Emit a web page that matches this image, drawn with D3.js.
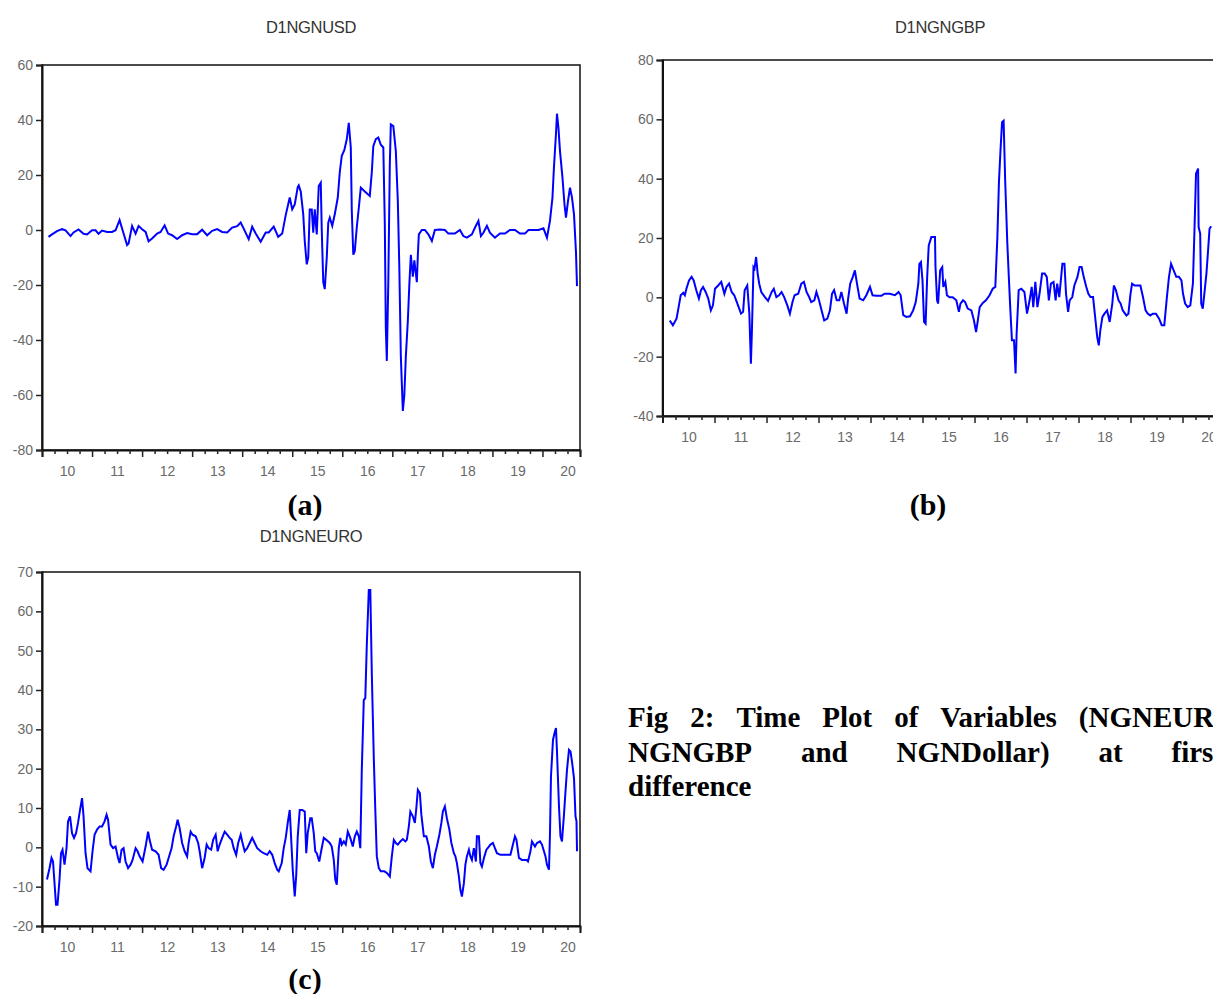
<!DOCTYPE html>
<html><head><meta charset="utf-8">
<script src="https://cdn.jsdelivr.net/npm/d3@7/dist/d3.min.js"></script>
<style>
html,body{margin:0;padding:0;background:#fff;overflow:hidden;}
svg{display:block;}
</style></head><body>
<svg id="chart" width="1213" height="994"></svg>
<script>
// ---------------- data (decimal year, first-difference value) ----------------
const yearLabels = ["10","11","12","13","14","15","16","17","18","19","20"];
const panelTitles = ["D1NGNUSD","D1NGNGBP","D1NGNEURO"];
const panelLetters = ["(a)","(b)","(c)"];
const captionLines = [
  ["Fig","2:","Time","Plot","of","Variables","(NGNEURO,"],
  ["NGNGBP","and","NGNDollar)","at","first"],
  ["difference"]
];
const usdTicks = [-80,-60,-40,-20,0,20,40,60];
const gbpTicks = [-40,-20,0,20,40,60,80];
const eurTicks = [-20,-10,0,10,20,30,40,50,60,70];

const usd = [
[2010.13,-2.5],[2010.20,-1.6],[2010.30,-0.4],[2010.40,0.3],[2010.47,-0.1],[2010.57,-2.2],[2010.63,-0.9],[2010.73,0.2],[2010.83,-1.4],[2010.90,-1.6],
[2011.00,-0.1],[2011.07,-0.1],[2011.13,-1.4],[2011.20,-0.2],[2011.30,-0.7],[2011.40,-0.7],[2011.47,-0.1],[2011.55,3.6],[2011.63,-1.3],[2011.70,-5.5],
[2011.73,-4.9],[2011.80,1.5],[2011.87,-1.3],[2011.93,1.5],[2012.00,0.3],[2012.07,-0.7],[2012.13,-4.1],[2012.20,-3.1],[2012.30,-1.3],[2012.37,-0.7],
[2012.45,1.7],[2012.52,-1.3],[2012.60,-1.9],[2012.70,-3.3],[2012.80,-1.9],[2012.90,-1.1],[2013.00,-1.5],[2013.10,-1.5],[2013.20,0.1],[2013.30,-1.9],
[2013.40,-0.3],[2013.50,0.3],[2013.60,-0.7],[2013.70,-0.9],[2013.80,0.9],[2013.90,1.4],[2013.97,2.7],[2014.03,0.5],[2014.13,-3.3],[2014.20,1.2],
[2014.27,-1.3],[2014.37,-4.3],[2014.47,-0.9],[2014.53,-0.9],[2014.63,1.2],[2014.72,-2.5],[2014.80,-1.3],[2014.87,5.4],
[2014.95,11.8],[2015.00,7.5],[2015.05,9.3],[2015.11,15.6],[2015.13,16.2],[2015.17,14],[2015.22,5.7],[2015.25,-4],[2015.29,-12.5],[2015.32,-10],
[2015.35,7.5],[2015.39,7.5],[2015.42,-1],[2015.45,7.5],[2015.49,-1.6],[2015.53,16],[2015.57,17.2],[2015.59,0],[2015.62,-19],[2015.65,-21.5],
[2015.69,-10],[2015.72,2.7],[2015.75,4.5],[2015.80,1.5],[2015.85,5.7],[2015.91,11.8],[2015.95,21],[2015.99,27],
[2016.04,29],[2016.09,33],[2016.13,39],[2016.17,30],[2016.19,7],[2016.22,-9],[2016.25,-7.6],[2016.29,1],[2016.33,8],[2016.37,15.4],
[2016.45,14],[2016.55,12.4],[2016.59,21],[2016.62,30.5],[2016.67,33],[2016.72,33.6],[2016.77,31],[2016.82,30],[2016.85,2],[2016.87,-35.5],
[2016.89,-47.6],[2016.92,-18.5],[2016.95,24],[2016.97,38.4],
[2017.02,37.8],[2017.07,28.7],[2017.11,10.5],[2017.14,-13.7],[2017.17,-46],[2017.21,-65.8],[2017.24,-60],[2017.27,-46],[2017.31,-33],[2017.34,-19.8],
[2017.37,-9],[2017.41,-17],[2017.44,-11],[2017.49,-19],[2017.51,-9],[2017.53,-1.6],[2017.59,0],[2017.65,0],[2017.72,-1.6],[2017.79,-4],
[2017.85,0],[2017.95,0.2],
[2018.05,0],[2018.12,-1.3],[2018.25,-1.3],[2018.35,0],[2018.42,-2.2],[2018.49,-2.8],[2018.59,-1.6],[2018.65,0.8],[2018.72,3.3],[2018.77,-2.2],
[2018.82,-1],[2018.89,1.5],[2018.95,-1],
[2019.05,-2.8],[2019.15,-1.3],[2019.25,-1.3],[2019.35,0],[2019.45,0],[2019.55,-1.3],[2019.65,-1.3],[2019.72,0],[2019.82,0],[2019.92,0],
[2020.02,0.6],[2020.09,-2.8],[2020.15,3.3],[2020.20,11.8],[2020.23,23],[2020.27,35],[2020.29,42.3],[2020.32,37],[2020.35,28.7],[2020.40,19],
[2020.44,9.3],[2020.47,4.5],[2020.51,10.5],[2020.55,15.4],[2020.59,11.8],[2020.63,5.7],[2020.67,-8.2],[2020.69,-20.4]
];

const gbp = [
[2010.14,-7.8],[2010.20,-9.4],[2010.27,-7.2],[2010.31,-3.3],[2010.35,0.7],[2010.40,1.5],[2010.43,0.7],[2010.46,2.9],[2010.51,5.7],[2010.56,6.9],
[2010.60,5.7],[2010.65,2.4],[2010.70,-0.4],[2010.74,2.4],[2010.78,3.5],[2010.83,1.8],[2010.88,-0.4],[2010.93,-4.4],[2010.97,-2.7],[2011.01,2.9],
[2011.07,4],[2011.13,5.2],[2011.19,1.2],[2011.23,3.5],[2011.28,4.6],[2011.33,1.8],[2011.38,0.7],[2011.44,-2.1],[2011.51,-5.5],[2011.55,-4.9],
[2011.58,2.4],[2011.63,4],[2011.67,-5.5],[2011.70,-22.4],[2011.72,-11],[2011.75,10.2],[2011.77,9.7],[2011.80,13.6],[2011.83,8],[2011.86,4.6],
[2011.90,1.8],[2011.97,0.1],[2012.03,-1.2],[2012.10,1.8],[2012.14,2.9],[2012.19,0.1],[2012.24,0.7],[2012.29,1.8],[2012.34,0.1],[2012.40,-2.7],
[2012.45,-5.5],[2012.50,-1.6],[2012.54,0.7],[2012.61,1.2],[2012.67,4.6],[2012.72,5.2],[2012.77,1.8],[2012.82,0.1],[2012.86,-1.6],[2012.92,-1],
[2012.96,1.8],[2013.01,-1],[2013.06,-4.4],[2013.11,-7.8],[2013.17,-7.2],[2013.22,-4.4],[2013.26,1.2],[2013.30,2.4],[2013.35,-1],[2013.40,-1],
[2013.44,1.8],[2013.49,-2.1],[2013.54,-5.5],[2013.57,-0.4],[2013.61,4.6],[2013.66,6.9],[2013.70,9.1],[2013.74,4.6],[2013.79,-0.4],[2013.86,-1],
[2013.92,0.7],[2013.99,3.5],[2014.04,0.7],[2014.11,0.5],[2014.21,0.5],[2014.27,1.2],[2014.37,1.2],[2014.47,0.7],[2014.54,1.8],[2014.58,0.7],
[2014.63,-6],[2014.69,-6.6],[2014.76,-6.4],[2014.82,-4.4],[2014.87,-1.6],[2014.92,4.6],[2014.94,11.3],[2014.97,11.9],[2015.00,5.7],[2015.03,-8.3],
[2015.06,-8.9],[2015.09,6.9],[2015.12,17.5],[2015.17,20.3],[2015.24,20.3],
[2015.25,10.2],[2015.28,-1],[2015.30,-2.1],[2015.34,9.1],[2015.38,10.2],[2015.40,3.5],[2015.44,5.2],[2015.47,0.7],[2015.52,0],[2015.58,0],
[2015.65,-1],[2015.70,-4.9],[2015.73,-2.1],[2015.78,-1],[2015.82,-1.6],[2015.87,-3.8],[2015.94,-4.4],[2015.99,-7.8],[2016.03,-11.7],[2016.06,-8.3],
[2016.10,-3.3],[2016.16,-1.9],[2016.22,-1],[2016.29,0.7],[2016.35,2.9],[2016.40,3.5],[2016.44,20.3],[2016.47,38.9],[2016.50,49.6],[2016.53,59],
[2016.56,59.5],[2016.59,39.4],[2016.63,18.7],[2016.66,6.9],[2016.69,-4.4],[2016.72,-14.5],[2016.76,-14.5],[2016.79,-25.7],[2016.81,-12.2],[2016.85,2.4],
[2016.90,2.9],[2016.96,1.8],[2017.01,-5.5],[2017.06,-1],[2017.10,3.5],[2017.13,-3.3],[2017.17,5.2],[2017.21,-3.3],[2017.25,1.2],[2017.30,8],
[2017.35,8],[2017.39,6.9],[2017.43,-1],[2017.47,4.6],[2017.52,5.2],[2017.56,-1],[2017.59,4.6],[2017.63,0.1],[2017.69,11.3],[2017.73,11.3],
[2017.76,1.2],[2017.80,-4.9],[2017.83,-1],[2017.88,0.1],[2017.92,4],[2017.98,6.9],[2018.02,10.2],[2018.06,10.2],[2018.10,6.9],[2018.15,3.5],
[2018.19,1.2],[2018.23,0.1],[2018.28,0.1],[2018.32,-6.6],[2018.36,-13.4],[2018.39,-16.2],[2018.42,-11.1],[2018.46,-6.6],[2018.50,-5.5],[2018.55,-4.4],
[2018.60,-8.3],[2018.65,-2.1],[2018.68,4],[2018.72,2.4],[2018.77,-1],[2018.81,-2.1],[2018.85,-4.4],[2018.92,-6.1],[2018.96,-5.5],[2019.00,1.2],
[2019.03,4.6],[2019.08,4],[2019.14,4],[2019.19,4],[2019.24,0.1],[2019.29,-4.4],[2019.33,-5.5],[2019.38,-6.1],[2019.43,-5.5],[2019.49,-5.5],
[2019.55,-7.2],[2019.60,-9.4],[2019.65,-9.4],[2019.70,0.1],[2019.74,6.9],[2019.78,11.3],[2019.83,9.1],[2019.88,6.9],[2019.93,6.9],[2019.98,5.7],
[2020.01,1.2],[2020.05,-2.1],[2020.10,-3.3],[2020.15,-2.7],[2020.20,4.6],[2020.23,22.6],[2020.26,41.7],[2020.30,43.4],[2020.31,23.7],[2020.34,21.5],
[2020.36,-2.1],[2020.39,-3.8],[2020.42,1.2],[2020.46,8],[2020.49,15.3],[2020.52,23.1],[2020.55,24]
];

const eur = [
[2010.10,-8.2],[2010.15,-5.3],[2010.19,-2.7],[2010.22,-3.6],[2010.25,-9.1],[2010.28,-14.6],[2010.31,-14.6],[2010.35,-8.2],[2010.38,-1.5],[2010.41,-0.6],
[2010.45,-4.4],[2010.49,-0.2],[2010.52,6.6],[2010.56,7.9],[2010.60,3.6],[2010.64,2.4],[2010.68,3.6],[2010.72,6.2],[2010.76,9.5],[2010.80,12.5],
[2010.83,7.9],[2010.87,-1.5],[2010.91,-5.3],[2010.97,-6.1],[2011.01,-1],[2011.05,3.2],[2011.10,4.5],[2011.15,5.3],[2011.20,5.3],[2011.25,6.6],
[2011.29,8.3],[2011.32,7],[2011.37,0.7],[2011.42,-0.2],[2011.47,0.2],[2011.52,-2.7],[2011.55,-4],[2011.59,-0.6],[2011.63,-0.2],[2011.67,-3.6],
[2011.72,-5.3],[2011.77,-4.4],[2011.81,-3.2],[2011.87,-0.2],[2011.91,-1],[2011.95,-2.3],[2012.01,-3.6],[2012.07,0.2],[2012.12,4],[2012.15,1.9],
[2012.20,-0.6],[2012.27,-1],[2012.33,-1.9],[2012.38,-5.3],[2012.43,-5.7],[2012.49,-4.4],[2012.53,-2.7],[2012.59,-0.2],[2012.63,2.8],[2012.68,5.3],
[2012.71,7],[2012.75,4.9],[2012.80,1.1],[2012.85,-1],[2012.90,-2.3],[2012.93,1.1],[2012.97,4],[2013.01,3.2],[2013.07,2.8],[2013.12,1.1],
[2013.15,-1],[2013.20,-5.3],[2013.25,-2.7],[2013.29,0.7],[2013.33,-0.2],[2013.38,-0.6],[2013.42,1.9],[2013.47,3.2],[2013.51,-1],[2013.55,0.7],
[2013.60,2.4],[2013.65,4],[2013.70,3.2],[2013.75,2.4],[2013.79,1.9],[2013.83,-0.2],[2013.88,-1.9],[2013.92,1.1],[2013.97,3.2],[2014.00,1.5],
[2014.05,-1],[2014.10,-0.2],[2014.15,1.1],[2014.20,2.4],[2014.25,1.1],[2014.30,-0.2],[2014.37,-1],[2014.43,-1.5],[2014.50,-1.9],[2014.55,-1],
[2014.60,-1.9],[2014.65,-4],[2014.70,-5.7],[2014.73,-6.1],[2014.79,-4],[2014.83,-0.2],[2014.87,2.4],[2014.91,6.2],[2014.95,9.5],[2014.98,1.9],
[2015.01,-5.7],[2015.05,-12.5],[2015.08,-7],[2015.11,2.8],[2015.15,9.5],[2015.20,9.5],[2015.25,9.1],
[2015.28,-1.5],[2015.31,3.6],[2015.36,7.4],[2015.39,7.4],[2015.43,3.6],[2015.46,-1],[2015.49,-1.5],[2015.54,-3.6],[2015.57,-1.5],
[2015.63,2.4],[2015.68,1.9],[2015.75,1.1],[2015.79,0.2],[2015.83,-3.2],[2015.86,-8.2],[2015.89,-9.5],[2015.93,-0.2],[2015.96,2.4],[2015.99,0.7],
[2016.03,1.5],[2016.07,0.7],[2016.11,4],[2016.16,2.4],[2016.21,0.2],[2016.25,2.8],[2016.29,4],[2016.33,2.8],[2016.36,-0.2],[2016.39,19.7],
[2016.43,37.5],[2016.46,37.9],[2016.49,51.5],[2016.53,65.4],[2016.56,65.4],[2016.59,44.2],[2016.63,22.6],[2016.66,9.5],[2016.69,-2.3],[2016.73,-5.3],
[2016.77,-6.1],[2016.84,-6.1],[2016.89,-6.5],[2016.95,-7.4],[2016.99,-2.3],[2017.03,1.9],[2017.07,1.1],[2017.11,0.7],[2017.16,1.5],[2017.21,2.1],
[2017.26,1.5],[2017.29,1.9],[2017.33,5.3],[2017.36,9.1],[2017.41,7.9],[2017.45,6.2],[2017.48,10],[2017.51,14.6],[2017.55,13.8],[2017.58,8.3],
[2017.63,2.8],[2017.68,2.8],[2017.73,0.2],[2017.77,-3.6],[2017.81,-5.3],[2017.85,-1.9],[2017.89,0.2],[2017.94,3.2],[2017.98,6.2],[2018.01,9.1],
[2018.05,10.4],[2018.09,7.4],[2018.14,4.5],[2018.18,1.1],[2018.23,-1.5],[2018.26,-2.3],[2018.29,-4],[2018.33,-7.4],[2018.36,-10.8],[2018.39,-12.5],
[2018.43,-9.1],[2018.46,-4.4],[2018.49,-2.3],[2018.53,-0.6],[2018.56,-2.3],[2018.59,-3.2],[2018.63,-0.2],[2018.67,-3.6],[2018.69,2.8],[2018.73,2.8],
[2018.76,-4],[2018.79,-4.9],[2018.84,-2.3],[2018.88,-0.6],[2018.93,0.2],[2018.96,0.7],[2019.01,1.1],[2019.05,-0.2],[2019.09,-1.5],[2019.16,-1.9],
[2019.23,-1.9],[2019.29,-1.9],[2019.36,-1.9],[2019.41,0.7],[2019.45,2.8],[2019.48,1.9],[2019.53,-2.7],[2019.59,-3.2],[2019.68,-3.2],[2019.71,-3.6],
[2019.76,-1],[2019.79,1.5],[2019.85,0.2],[2019.89,1.1],[2019.95,1.5],[2019.99,0.7],[2020.03,-1],[2020.06,-2.3],[2020.09,-4.4],[2020.13,-5.7],
[2020.15,3.2],[2020.17,18],[2020.21,27.3],[2020.24,29],[2020.27,30.3],[2020.29,24.4],[2020.33,10.4],[2020.36,2.8],[2020.39,1.5],[2020.43,8.3],
[2020.46,14.2],[2020.49,19.7],[2020.53,24.8],[2020.56,24.4],[2020.59,21.8],[2020.63,17.6],[2020.66,7.9],[2020.68,6.6],[2020.69,-1]
];

// ---------------- layout ----------------
const svg = d3.select("#chart");
const X0 = 2010, X1 = 2020.75;
const panels = [
  {series: usd, ticks: usdTicks, dom: [-80, 60], left: 42,    right: 580,    top: 65,  bottom: 450, title: panelTitles[0], titleX: 311, titleY: 33,  letter: panelLetters[0], letterX: 305, letterY: 515},
  {series: gbp, ticks: gbpTicks, dom: [-40, 80], left: 662.5, right: 1221.5, top: 60,  bottom: 416, title: panelTitles[1], titleX: 940, titleY: 33,  letter: panelLetters[1], letterX: 928, letterY: 515},
  {series: eur, ticks: eurTicks, dom: [-20, 70], left: 42,    right: 580,    top: 572, bottom: 926, title: panelTitles[2], titleX: 311, titleY: 542, letter: panelLetters[2], letterX: 305, letterY: 989}
];

const sans = "'Liberation Sans', Arial, sans-serif";
const serif = "'Liberation Serif', 'Times New Roman', serif";

panels.forEach(p => {
  const x = d3.scaleLinear().domain([X0, X1]).range([p.left, p.right]);
  const y = d3.scaleLinear().domain(p.dom).range([p.bottom, p.top]);
  const g = svg.append("g");

  // title
  g.append("text").attr("x", p.titleX).attr("y", p.titleY)
    .attr("text-anchor", "middle").attr("font-family", sans).attr("font-size", 16.5)
    .attr("fill", "#333").attr("letter-spacing", -0.3).text(p.title);

  // series line
  const line = d3.line().x(d => x(d[0])).y(d => y(d[1]));
  g.append("path").datum(p.series).attr("d", line)
    .attr("fill", "none").attr("stroke", "#0000ff").attr("stroke-width", 2)
    .attr("stroke-linejoin", "miter");

  // frame
  g.append("rect").attr("x", p.left).attr("y", p.top)
    .attr("width", p.right - p.left).attr("height", p.bottom - p.top)
    .attr("fill", "none").attr("stroke", "#111").attr("stroke-width", 1.5);

  // y axis
  const ya = d3.axisLeft(y).tickValues(p.ticks).tickSize(6).tickPadding(3).tickFormat(d => String(d));
  const yg = g.append("g").attr("transform", `translate(${p.left},0)`).call(ya);
  yg.select(".domain").attr("stroke", "#111").attr("stroke-width", 2);
  yg.selectAll(".tick line").attr("stroke", "#222").attr("stroke-width", 1.5);
  yg.selectAll(".tick text").attr("font-family", sans).attr("font-size", 14).attr("fill", "#6a6a6a");

  // x axis: major year ticks, minor quarter ticks, labels in the middle of each year
  const majors = d3.range(2010, 2021);
  const minors = d3.range(2010.25, X1 + 0.001, 0.25).filter(v => Math.abs(v - Math.round(v)) > 0.01);
  const xMaj = d3.axisBottom(x).tickValues(majors).tickSize(7).tickFormat("");
  const xMin = d3.axisBottom(x).tickValues(minors).tickSize(4).tickFormat("");
  const xLab = d3.axisBottom(x).tickValues(majors.map(v => v + 0.5)).tickSize(0).tickPadding(16)
    .tickFormat((d, i) => yearLabels[i]);
  [xMaj, xMin, xLab].forEach((ax, k) => {
    const xg = g.append("g").attr("transform", `translate(0,${p.bottom})`).call(ax);
    xg.select(".domain").attr("stroke", k === 0 ? "#111" : "none").attr("stroke-width", 2);
    xg.selectAll(".tick line").attr("stroke", "#222").attr("stroke-width", 1.5);
    xg.selectAll(".tick text").attr("font-family", sans).attr("font-size", 14).attr("fill", "#6a6a6a");
  });

  // panel letter
  g.append("text").attr("x", p.letterX).attr("y", p.letterY).attr("text-anchor", "middle")
    .attr("font-family", serif).attr("font-weight", "bold").attr("font-size", 30)
    .attr("fill", "#000").text(p.letter);
});

// ---------------- caption (justified lines) ----------------
const capX = 628, capY0 = 727, capLH = 34.5, capWidths = [616, 595];
captionLines.forEach((words, li) => {
  const tg = svg.append("g");
  const ts = words.map(w => tg.append("text").attr("y", capY0 + li * capLH)
    .attr("font-family", serif).attr("font-weight", "bold").attr("font-size", 29)
    .attr("fill", "#000").text(w));
  const widths = ts.map(t => t.node().getComputedTextLength());
  const total = d3.sum(widths);
  const justify = li < capWidths.length && words.length > 1;
  const gap = justify ? (capWidths[li] - total) / (words.length - 1) : 7.5;
  let cx = capX;
  ts.forEach((t, i) => { t.attr("x", cx); cx += widths[i] + gap; });
});
</script>
</body></html>
